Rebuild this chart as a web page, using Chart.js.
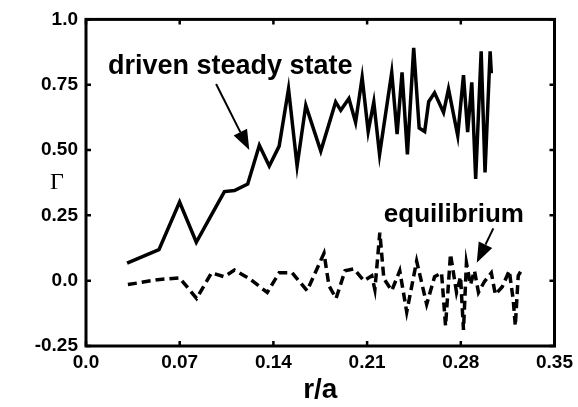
<!DOCTYPE html>
<html>
<head>
<meta charset="utf-8">
<script src="https://cdn.jsdelivr.net/npm/chart.js@4/dist/chart.umd.min.js"></script>
<style>
  html, body { margin: 0; padding: 0; background: #fff; }
  #wrap { width: 578px; height: 407px; }
</style>
</head>
<body>
<div id="wrap"><canvas id="c" width="578" height="407"></canvas></div>
<script>
// ---- data ----
const xTickValues = [0, 0.07, 0.14, 0.21, 0.28, 0.35];
const xTickLabels = ["0.0", "0.07", "0.14", "0.21", "0.28", "0.35"];
const yTickValues = [-0.25, 0, 0.25, 0.5, 0.75, 1.0];
const yTickLabels = ["-0.25", "0.0", "0.25", "0.50", "0.75", "1.0"];

const drivenR = [0.0307, 0.0545, 0.0699, 0.0824, 0.093, 0.1034, 0.1109, 0.1208, 0.1295, 0.1369,
  0.1443, 0.1513, 0.1577, 0.1642, 0.1754, 0.1865, 0.1903, 0.1964, 0.2014, 0.2063,
  0.2108, 0.215, 0.2193, 0.2284, 0.2324, 0.2361, 0.2401, 0.2448, 0.2489, 0.253,
  0.256, 0.2604, 0.2671, 0.2708, 0.2777, 0.282, 0.2851, 0.2882, 0.2911, 0.2952,
  0.2981, 0.3019, 0.3028];
const drivenGamma = [0.067, 0.119, 0.301, 0.147, 0.245, 0.341, 0.345, 0.370, 0.518, 0.439,
  0.515, 0.734, 0.439, 0.671, 0.496, 0.684, 0.652, 0.697, 0.606, 0.778,
  0.571, 0.684, 0.483, 0.797, 0.561, 0.797, 0.483, 0.891, 0.584, 0.571,
  0.685, 0.719, 0.644, 0.734, 0.555, 0.787, 0.569, 0.759, 0.389, 0.878,
  0.414, 0.878, 0.794];

const equilR = [0.0313, 0.0536, 0.0699, 0.0826, 0.0938, 0.1034, 0.1109, 0.122, 0.1354, 0.1443,
  0.154, 0.1652, 0.1778, 0.1815, 0.1868, 0.1935, 0.2001, 0.2076, 0.2135, 0.2158,
  0.2195, 0.2225, 0.2284, 0.2344, 0.2396, 0.247, 0.2545, 0.2604, 0.2656, 0.2686,
  0.2723, 0.2768, 0.2798, 0.282, 0.2842, 0.2872, 0.2902, 0.2932, 0.2976, 0.3028,
  0.3058, 0.311, 0.3162, 0.3192, 0.3207, 0.3229, 0.3251];
const equilGamma = [-0.015, 0.004, 0.011, -0.068, 0.030, 0.015, 0.041, 0.008, -0.045, 0.030,
  0.030, -0.038, 0.105, -0.019, -0.068, 0.038, 0.045, 0.0, 0.019, -0.034,
  0.184, 0.008, -0.038, 0.038, -0.12, 0.075, -0.09, 0.015, 0.030, -0.173,
  0.102, -0.045, 0.015, -0.188, 0.068, -0.015, 0.038, -0.045, -0.004, 0.030,
  -0.053, -0.023, 0.038, -0.075, -0.173, 0.019, 0.038];

// annotation texts and anchor points (data units)
const annotations = [
  { text: "driven steady state", r: 0.0164, g: 0.79, fromR: 0.0972, fromG: 0.753, toR: 0.122, toG: 0.50 },
  { text: "equilibrium", r: 0.2225, g: 0.226, fromR: 0.3043, fromG: 0.20, toR: 0.2919, toG: 0.069 }
];
const yAxisTitle = "Γ";
const xAxisTitle = "r/a";

const SANS = "'Liberation Sans', Arial, Helvetica, sans-serif";
const SERIF = "'Liberation Serif', 'Times New Roman', serif";

const framePlugin = {
  id: 'frame',
  afterDatasetsDraw(chart) {
    const { ctx, chartArea: { left, right, top, bottom }, scales: { x, y } } = chart;
    ctx.save();
    ctx.strokeStyle = '#000';
    ctx.lineWidth = 3;
    ctx.strokeRect(left, top, right - left, bottom - top);
    ctx.lineWidth = 2.5;
    const tl = 5;
    xTickValues.forEach(v => {
      const px = x.getPixelForValue(v);
      ctx.beginPath();
      ctx.moveTo(px, bottom); ctx.lineTo(px, bottom - tl);
      ctx.moveTo(px, top); ctx.lineTo(px, top + tl);
      ctx.stroke();
    });
    yTickValues.forEach(v => {
      const py = y.getPixelForValue(v);
      ctx.beginPath();
      ctx.moveTo(left, py); ctx.lineTo(left + tl, py);
      ctx.moveTo(right, py); ctx.lineTo(right - tl, py);
      ctx.stroke();
    });

    // annotations
    ctx.fillStyle = '#000';
    ctx.textBaseline = 'alphabetic';
    ctx.textAlign = 'left';
    annotations.forEach((a, k) => {
      ctx.font = "bold " + (k === 0 ? 27 : 26) + "px " + SANS;
      ctx.fillText(a.text, x.getPixelForValue(a.r), y.getPixelForValue(a.g));
      const x0 = x.getPixelForValue(a.fromR), y0 = y.getPixelForValue(a.fromG);
      const x1 = x.getPixelForValue(a.toR), y1 = y.getPixelForValue(a.toG);
      const ang = Math.atan2(y1 - y0, x1 - x0);
      const hl = 20, hw = 7.5;
      const bx = x1 - hl * Math.cos(ang), by = y1 - hl * Math.sin(ang);
      ctx.lineWidth = 2;
      ctx.beginPath(); ctx.moveTo(x0, y0); ctx.lineTo(bx, by); ctx.stroke();
      ctx.beginPath();
      ctx.moveTo(x1, y1);
      ctx.lineTo(bx + hw * Math.sin(ang), by - hw * Math.cos(ang));
      ctx.lineTo(bx - hw * Math.sin(ang), by + hw * Math.cos(ang));
      ctx.closePath(); ctx.fill();
    });

    // y-axis title (upright Gamma)
    ctx.font = "24px " + SERIF;
    ctx.textAlign = 'center';
    ctx.textBaseline = 'middle';
    ctx.fillText(yAxisTitle, 57, (top + bottom) / 2);
    ctx.restore();
  }
};

new Chart(document.getElementById('c'), {
  type: 'line',
  data: {
    datasets: [
      {
        label: 'driven steady state',
        data: drivenR.map((r, i) => ({ x: r, y: drivenGamma[i] })),
        borderColor: '#000', borderWidth: 3.5, borderJoinStyle: 'miter',
        pointRadius: 0, tension: 0, fill: false
      },
      {
        label: 'equilibrium',
        data: equilR.map((r, i) => ({ x: r, y: equilGamma[i] })),
        borderColor: '#000', borderWidth: 3.5, borderDash: [9, 5], borderCapStyle: 'butt',
        pointRadius: 0, tension: 0, fill: false
      }
    ]
  },
  options: {
    responsive: false,
    animation: false,
    devicePixelRatio: 1,
    layout: { padding: { left: 0, right: 21, top: 14, bottom: 0 } },
    plugins: { legend: { display: false }, tooltip: { enabled: false } },
    scales: {
      x: {
        type: 'linear', min: 0, max: 0.35,
        afterBuildTicks: s => { s.ticks = xTickValues.map(v => ({ value: v })); },
        afterFit: s => { s.height = 61; },
        grid: { display: false, drawTicks: false },
        border: { display: false },
        ticks: {
          autoSkip: false, maxRotation: 0, padding: 5, color: '#000',
          font: { family: SANS, size: 19, weight: 'bold' },
          callback: (v, i) => xTickLabels[i]
        },
        title: {
          display: true, text: xAxisTitle, color: '#000',
          font: { family: SANS, size: 28, weight: 'bold' },
          padding: { top: 0, bottom: 0 }
        }
      },
      y: {
        type: 'linear', min: -0.25, max: 1.0,
        afterBuildTicks: s => { s.ticks = yTickValues.map(v => ({ value: v })); },
        afterFit: s => { s.width = 86; },
        grid: { display: false, drawTicks: false },
        border: { display: false },
        ticks: {
          autoSkip: false, padding: 8, color: '#000',
          font: { family: SANS, size: 19, weight: 'bold' },
          callback: (v, i) => yTickLabels[i]
        }
      }
    }
  },
  plugins: [framePlugin]
});
</script>
</body>
</html>
